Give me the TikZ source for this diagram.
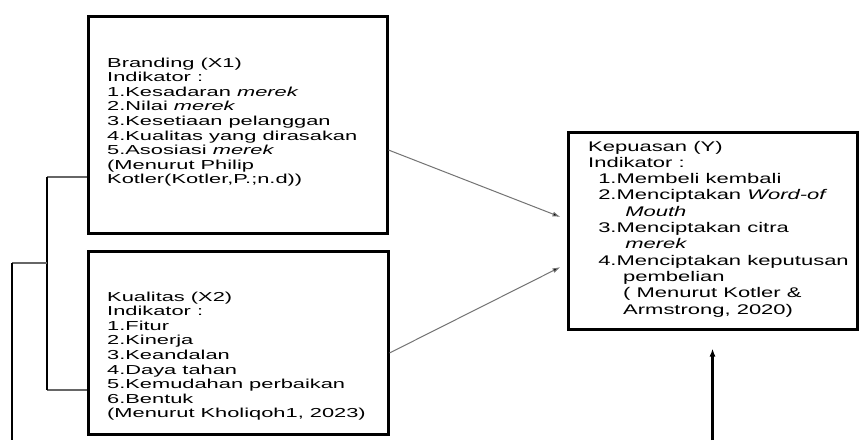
\documentclass[tikz,border=0pt]{standalone}
\usepackage{fontspec}
\setmainfont{Liberation Sans}
\usetikzlibrary{arrows.meta,calc}
\tikzset{
  framebox/.style={draw=black, line width=3pt, inner sep=0pt, fill=white},
  txtnode/.style={anchor=base west, inner sep=0pt, align=left},
  thinarrow/.style={draw=black!55, line width=1pt, -{Latex[length=8pt,width=5pt,fill=black]}},
  thickline/.style={draw=black, line width=2.5pt},
  thickarrow/.style={draw=black, line width=2.5pt, -{Latex[length=8pt,width=6pt]}},
  brackline/.style={draw=black!60, line width=1.5pt},
  brackvert/.style={draw=black, line width=2pt},
}
\newcommand{\xtext}[1]{\fontsize{13}{14.6}\selectfont\scalebox{1.68}[1]{\begin{tabular}[t]{@{}l@{}}#1\end{tabular}}}
\newcommand{\ytext}[1]{\fontsize{14}{16.3}\selectfont\scalebox{1.57}[1]{\begin{tabular}[t]{@{}l@{}}#1\end{tabular}}}
\begin{document}
\begin{tikzpicture}[x=1pt,y=-1pt]
\useasboundingbox (0,0) rectangle (859,440);
\fill[white] (0,0) rectangle (859,440);

% boxes
\node[framebox, minimum width=299pt, minimum height=217pt] (x1) at (237.5,124.5) {};
\node[framebox, minimum width=300pt, minimum height=183pt] (x2) at (238,342.5) {};
\node[framebox, minimum width=289pt, minimum height=197pt] (y) at (712.5,230.5) {};

% texts
\node[txtnode] (t1) at (107,67) {\xtext{Branding (X1)\\ Indikator :\\ 1.Kesadaran \textit{merek}\\ 2.Nilai \textit{merek}\\ 3.Kesetiaan pelanggan\\ 4.Kualitas yang dirasakan\\ 5.Asosiasi \textit{merek}\\ (Menurut Philip\\ Kotler(Kotler,P.;n.d))}};
\node[txtnode] (t2) at (107,301) {\xtext{Kualitas (X2)\\ Indikator :\\ 1.Fitur\\ 2.Kinerja\\ 3.Keandalan\\ 4.Daya tahan\\ 5.Kemudahan perbaikan\\ 6.Bentuk\\ (Menurut Kholiqoh1, 2023)}};
\node[txtnode] (t3) at (588,151) {\ytext{Kepuasan (Y)\\ Indikator :\\ \hspace*{6.4pt}1.Membeli kembali\\ \hspace*{6.4pt}2.Menciptakan \textit{Word-of}\\ \hspace*{23.6pt}\textit{Mouth}\\ \hspace*{6.4pt}3.Menciptakan citra\\ \hspace*{23.6pt}\textit{merek}\\ \hspace*{6.4pt}4.Menciptakan keputusan\\ \hspace*{22.3pt}pembelian\\ \hspace*{22.3pt}( Menurut Kotler \&\\ \hspace*{22.3pt}Armstrong, 2020)}};

% arrows into Y
\draw[thinarrow] ($(x1.east)+(0,25.5)$) -- ($(y.west)+(-6,-13.5)$);
\draw[thinarrow] ($(x2.east)+(0,10.5)$) -- ($(y.west)+(-6,36.5)$);

% bracket joining X1 and X2
\coordinate (b1) at (47,177);
\coordinate (b2) at (47,390);
\coordinate (bm) at (47,263);
\draw[brackline] ($(x1.west)+(0,52.5)$) -- (b1);
\draw[brackline] ($(x2.west)+(0,47.5)$) -- (b2);
\draw[brackvert] (b1) -- (b2);

% outer line going down, and arrow coming up into Y
\coordinate (o1) at (12,263);
\coordinate (o2) at (12,440);
\coordinate (a0) at (712.5,440);
\draw[brackline] (bm) -- (o1);
\draw[thickline] (o1) -- (o2);
\draw[thickarrow] (a0) -- ($(y.south)+(0,18)$);
\end{tikzpicture}
\end{document}
